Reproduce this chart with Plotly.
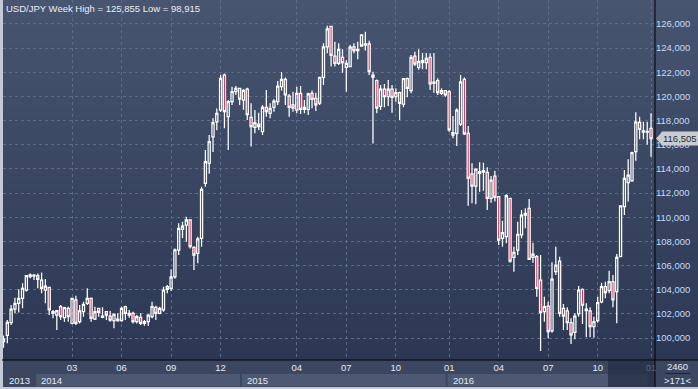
import plotly.graph_objects as go

# ---------------- data (weekly USD/JPY candles) ----------------
opens = [
    99.70, 100.22, 101.27, 102.40, 102.87, 103.28, 103.97, 105.08, 105.13, 105.16,
    104.80, 103.97, 104.19, 102.18, 101.90, 102.59, 101.68, 102.46, 101.21, 103.15,
    101.35, 102.18, 102.87, 103.28, 101.57, 102.46, 101.71, 102.18, 101.82, 101.43,
    101.43, 101.43, 102.59, 101.90, 102.04, 101.35, 101.71, 101.21, 101.35, 101.77,
    102.54, 102.04, 102.32, 104.25, 104.10, 105.07, 107.28, 109.00, 109.35, 109.77,
    107.50, 107.00, 108.25, 112.81, 114.46, 116.66, 117.90, 118.87, 121.77, 118.32,
    119.56, 120.39, 120.67, 119.70, 120.60, 118.27, 117.44, 117.70, 117.09, 119.10,
    118.60, 119.10, 119.56, 120.80, 121.40, 120.03, 119.29, 118.87, 120.26, 118.93,
    118.93, 120.26, 119.84, 119.45, 121.57, 124.10, 125.80, 123.34, 122.74, 123.24,
    122.41, 122.47, 124.10, 123.80, 125.08, 124.25, 124.34, 121.60, 121.30, 119.17,
    120.60, 119.98, 120.60, 119.98, 120.31, 119.37, 121.47, 120.48, 123.34, 122.40,
    122.80, 122.80, 123.24, 121.08, 121.30, 120.26, 120.48, 120.39, 116.80, 116.95,
    117.70, 121.40, 116.95, 113.58, 112.58, 113.63, 113.74, 113.72, 111.56, 113.41,
    111.70, 108.25, 108.39, 111.56, 106.68, 107.28, 108.53, 110.18, 110.74, 106.68,
    106.73, 104.80, 102.18, 102.65, 100.60, 105.49, 106.37, 102.46, 102.24, 101.27,
    100.47, 101.99, 104.03, 102.26, 102.24, 100.94, 101.43, 103.00, 104.25, 103.92,
    104.66, 103.83, 106.73, 110.87, 112.86, 113.00, 115.42, 117.86, 117.05, 117.10,
    117.36,
]
highs = [
    100.20, 101.49, 102.73, 103.34, 104.03, 104.53, 105.22, 105.35, 105.30, 105.35,
    105.43, 104.88, 104.25, 102.32, 102.32, 102.73, 102.59, 102.59, 103.34, 103.50,
    102.73, 103.00, 104.11, 103.36, 102.59, 102.51, 102.54, 102.24, 102.24, 102.04,
    102.04, 102.59, 102.67, 102.32, 102.18, 101.90, 102.04, 101.49, 101.96, 103.00,
    102.67, 102.59, 104.25, 104.39, 105.70, 107.42, 109.50, 109.63, 110.04, 109.80,
    107.60, 108.39, 112.53, 115.56, 116.80, 118.20, 119.00, 121.77, 121.90, 119.70,
    120.80, 120.86, 120.72, 120.60, 120.72, 119.43, 118.87, 118.65, 119.29, 120.53,
    119.43, 119.76, 121.27, 122.00, 121.57, 120.20, 120.39, 120.80, 120.86, 119.70,
    120.31, 120.48, 120.31, 121.60, 124.40, 125.855, 125.80, 124.53, 124.40, 123.90,
    123.00, 124.25, 124.40, 124.53, 125.17, 125.36, 124.60, 122.05, 121.40, 120.94,
    121.03, 121.36, 120.94, 120.67, 120.39, 121.50, 121.57, 123.43, 123.70, 123.90,
    123.60, 123.60, 123.57, 123.60, 121.50, 120.67, 120.53, 120.53, 118.38, 119.02,
    121.77, 121.57, 117.55, 114.46, 114.05, 114.54, 114.50, 114.13, 113.41, 113.85,
    111.75, 109.70, 111.90, 111.60, 107.56, 109.63, 110.60, 110.74, 111.50, 107.89,
    106.87, 106.87, 103.42, 103.00, 106.27, 107.56, 106.73, 102.81, 102.54, 101.63,
    102.04, 104.30, 104.10, 102.87, 102.54, 101.76, 103.42, 104.58, 104.66, 105.57,
    105.22, 106.95, 111.00, 113.90, 114.80, 115.42, 118.68, 118.32, 117.91, 117.90,
    118.60,
]
lows = [
    99.20, 99.56, 101.08, 102.04, 102.12, 102.46, 103.84, 104.94, 104.80, 104.11,
    103.70, 102.87, 101.90, 101.63, 100.66, 101.49, 101.35, 101.35, 101.13, 101.08,
    101.21, 101.77, 102.73, 101.35, 101.49, 101.77, 101.63, 101.49, 101.35, 100.80,
    101.35, 101.35, 101.49, 101.68, 101.21, 101.21, 101.08, 101.02, 100.99, 101.63,
    101.49, 101.96, 102.18, 103.70, 103.90, 104.90, 106.87, 108.28, 107.97, 107.42,
    105.63, 106.18, 107.56, 112.53, 113.60, 115.40, 117.20, 118.70, 117.36, 115.56,
    119.29, 120.12, 119.29, 118.90, 118.05, 115.85, 116.95, 117.20, 116.80, 118.32,
    118.20, 118.73, 119.29, 120.48, 119.29, 118.32, 118.73, 118.60, 118.54, 118.60,
    118.46, 119.02, 118.80, 119.29, 120.94, 123.57, 122.47, 122.47, 122.60, 121.96,
    120.39, 122.41, 123.57, 123.07, 124.10, 123.80, 121.77, 116.10, 118.60, 118.87,
    119.10, 119.20, 118.65, 119.56, 118.05, 119.10, 119.93, 120.26, 122.52, 122.20,
    122.25, 122.25, 120.53, 120.31, 120.12, 120.12, 119.98, 117.08, 116.53, 115.90,
    117.55, 116.80, 110.95, 111.15, 111.07, 112.11, 112.20, 110.60, 111.20, 111.29,
    107.70, 107.56, 107.84, 106.23, 105.49, 106.87, 108.25, 109.08, 106.46, 106.23,
    103.42, 98.915, 101.35, 99.98, 100.44, 105.22, 101.76, 100.66, 100.66, 99.50,
    99.89, 101.76, 101.16, 100.06, 100.06, 100.02, 101.27, 102.87, 103.29, 103.70,
    102.54, 101.22, 106.68, 110.18, 111.29, 112.94, 114.68, 116.45, 116.45, 116.00,
    115.00,
]
closes = [
    99.90, 101.30, 102.40, 102.87, 103.28, 104.11, 105.16, 105.22, 105.20, 104.86,
    104.11, 104.30, 102.32, 102.04, 102.26, 101.77, 102.51, 101.77, 103.28, 101.21,
    102.24, 102.79, 103.28, 101.63, 102.18, 102.12, 101.82, 101.90, 101.49, 101.96,
    101.57, 102.46, 102.04, 102.04, 101.35, 101.77, 101.21, 101.35, 101.90, 102.59,
    102.04, 102.46, 103.97, 104.03, 105.07, 107.30, 109.08, 109.27, 109.77, 107.56,
    106.87, 108.20, 112.31, 114.60, 116.25, 117.82, 118.60, 121.50, 118.73, 119.56,
    120.39, 120.67, 119.78, 120.50, 118.50, 117.50, 117.82, 117.50, 119.10, 118.74,
    119.00, 119.60, 120.86, 121.40, 120.12, 119.10, 119.02, 120.26, 118.93, 119.10,
    120.20, 119.76, 119.29, 121.57, 124.10, 125.60, 123.40, 122.74, 123.90, 122.80,
    122.74, 124.08, 123.80, 123.90, 124.17, 124.34, 122.05, 121.77, 119.02, 120.60,
    119.98, 120.60, 119.93, 120.31, 119.43, 121.47, 120.67, 123.24, 122.68, 122.90,
    122.96, 123.15, 121.03, 121.19, 120.31, 120.48, 120.12, 117.22, 117.00, 118.87,
    121.20, 116.89, 113.22, 112.58, 113.99, 113.77, 113.85, 111.56, 113.08, 111.65,
    108.11, 108.72, 111.78, 106.37, 107.09, 108.58, 110.18, 110.32, 106.51, 106.95,
    104.11, 102.10, 102.59, 100.52, 104.88, 106.04, 102.04, 101.82, 101.27, 100.25,
    101.82, 103.97, 102.73, 102.40, 100.94, 101.35, 102.92, 104.25, 103.75, 104.66,
    103.15, 106.68, 110.93, 113.22, 113.49, 115.34, 117.90, 117.28, 117.15, 117.05,
    116.505,
]
bar_index = list(range(len(closes)))

price_ticks = [100, 102, 104, 106, 108, 110, 112, 114, 116, 118, 120, 122, 124, 126]
price_tick_text = ["100,000", "102,000", "104,000", "106,000", "108,000", "110,000", "112,000",
                   "114,000", "116,000", "118,000", "120,000", "122,000", "124,000", "126,000"]
month_tick_bars = [18, 31, 44, 57, 77, 90, 103, 117, 130, 143, 156, 170]
month_tick_text = ["03", "06", "09", "12", "04", "07", "10", "01", "04", "07", "10", "01"]
first_year_label = "2013"
year_start_bars = [9, 63, 117, 170]
year_labels = ["2014", "2015", "2016"]
title_text = "USD/JPY Week High = 125,855 Low = 98,915"
last_price_text = "116,505"
counter_top = "2460"
counter_bottom = ">171<"

# ---------------- geometry helpers (layout only) ----------------
W, H = 698, 389
ML, MR, MT, MB = 3, 43, 0, 29
PW, PH = W - ML - MR, H - MT - MB


def px_x(p):
    return (p - ML) / PW


def px_y(p):
    return (MT + PH - p) / PH


X_RANGE = [-0.13, 171.04]
Y_RANGE = [98.18, 127.98]
FONT = "Liberation Sans, Arial, sans-serif"


def lerp(c1, c2, t):
    return "#%02x%02x%02x" % tuple(int(round(a + (b - a) * t)) for a, b in zip(c1, c2))


shapes = []
# gradient background for chart + price panel
top_c, bot_c = (72, 85, 112), (43, 55, 83)
n_bands = 40
for k in range(n_bands):
    ya = 1 - k / n_bands
    yb = 1 - (k + 1) / n_bands
    shapes.append(dict(type="rect", xref="paper", yref="paper", x0=0, x1=px_x(W),
                       y0=yb - 0.002, y1=ya, fillcolor=lerp(top_c, bot_c, (k + 0.5) / n_bands),
                       line=dict(width=0), layer="below"))
# bottom time panel
shapes.append(dict(type="rect", xref="paper", yref="paper", x0=0, x1=px_x(W),
                   y0=px_y(387), y1=px_y(360), fillcolor="#3b4761", line=dict(width=0), layer="below"))
# year cells
for i, lab in enumerate(year_labels):
    shapes.append(dict(type="rect", xref="x", yref="paper",
                       x0=year_start_bars[i] - 0.4, x1=year_start_bars[i + 1] - 0.9,
                       y0=px_y(386.5), y1=px_y(374), fillcolor="#4d5872",
                       line=dict(width=0), layer="below"))
# scroll overlay at the right of the time panel
shapes.append(dict(type="rect", xref="paper", yref="paper", x0=px_x(608), x1=1,
                   y0=px_y(387), y1=px_y(360.5), fillcolor="#222c44", opacity=0.7,
                   line=dict(width=0), layer="above"))
# black separators
shapes.append(dict(type="line", xref="paper", yref="paper", x0=px_x(2), x1=px_x(W),
                   y0=0, y1=0, line=dict(color="#000000", width=1), layer="above"))
shapes.append(dict(type="line", xref="paper", yref="paper", x0=1, x1=1,
                   y0=px_y(387), y1=1, line=dict(color="#000000", width=1), layer="above"))
# line between counters
shapes.append(dict(type="line", xref="paper", yref="paper", x0=px_x(665), x1=px_x(690),
                   y0=px_y(373.5), y1=px_y(373.5), line=dict(color="#1c2333", width=1), layer="above"))
# price tag arrow
last = closes[-1]
half = 6.5 * (Y_RANGE[1] - Y_RANGE[0]) / PH
shapes.append(dict(type="path", xref="paper", yref="y",
                   path=f"M {px_x(656)},{last} L {px_x(662)},{last + half} L {px_x(662)},{last - half} Z",
                   fillcolor="#c9cdd3", line=dict(width=0), layer="above"))

annotations = [
    dict(text=title_text, xref="paper", yref="paper", x=px_x(4), y=px_y(8.5),
         xanchor="left", yanchor="middle", showarrow=False,
         font=dict(family=FONT, size=9.5, color="#e8edf5")),
    dict(text=last_price_text, xref="paper", yref="y", x=px_x(661), y=last,
         xanchor="left", yanchor="middle", showarrow=False, bgcolor="#c9cdd3",
         borderpad=1, font=dict(family=FONT, size=9.5, color="#2a2a2a")),
    dict(text=counter_top, xref="paper", yref="paper", x=px_x(677), y=px_y(366.5),
         xanchor="center", yanchor="middle", showarrow=False,
         font=dict(family=FONT, size=9.5, color="#e3e9f2")),
    dict(text=counter_bottom, xref="paper", yref="paper", x=px_x(677), y=px_y(380.5),
         xanchor="center", yanchor="middle", showarrow=False,
         font=dict(family=FONT, size=9.5, color="#e3e9f2")),
    dict(text=first_year_label, xref="x", yref="paper",
         x=(X_RANGE[0] + year_start_bars[0] - 0.4) / 2, y=px_y(380.5),
         xanchor="center", yanchor="middle", showarrow=False,
         font=dict(family=FONT, size=9.5, color="#e3e9f2")),
]
for i, lab in enumerate(year_labels):
    annotations.append(dict(text=lab, xref="x", yref="paper", x=year_start_bars[i] - 0.4,
                            xshift=3, y=px_y(380.5), xanchor="left", yanchor="middle",
                            showarrow=False, font=dict(family=FONT, size=9.5, color="#e3e9f2")))

fig = go.Figure(go.Candlestick(
    x=bar_index, open=opens, high=highs, low=lows, close=closes,
    increasing=dict(line=dict(color="#ffffff", width=1.25), fillcolor="rgba(0,0,0,0)"),
    decreasing=dict(line=dict(color="#ffffff", width=1.25), fillcolor="#f0103c"),
    whiskerwidth=0, hoverinfo="skip", showlegend=False,
))

fig.update_layout(
    width=W, height=H,
    margin=dict(l=ML, r=MR, t=MT, b=MB, pad=0),
    paper_bgcolor="#c3cad5", plot_bgcolor="rgba(0,0,0,0)",
    boxgap=0.2,
    shapes=shapes, annotations=annotations,
    xaxis=dict(range=X_RANGE, rangeslider=dict(visible=False), tickmode="array",
               tickvals=month_tick_bars, ticktext=month_tick_text, ticks="",
               showgrid=True, gridcolor="#5c6b89", griddash="dot", gridwidth=1,
               zeroline=False, showline=False,
               tickfont=dict(family=FONT, size=9.5, color="#e3e9f2")),
    yaxis=dict(range=Y_RANGE, side="right", tickmode="array", tickvals=price_ticks,
               ticktext=price_tick_text, ticks="", showgrid=True, gridcolor="#5c6b89",
               griddash="dot", gridwidth=1, zeroline=False, showline=False,
               tickfont=dict(family=FONT, size=9.5, color="#c6d9f4")),
    hovermode=False,
)

fig.write_html("out.html", config={"staticPlot": True})

# remove the default page margin so the figure sits at the window's top-left corner
with open("out.html", "r", encoding="utf-8") as fh:
    page = fh.read()
page = page.replace("<head>", "<head><style>html,body{margin:0;padding:0;overflow:hidden;}</style>", 1)
with open("out.html", "w", encoding="utf-8") as fh:
    fh.write(page)
